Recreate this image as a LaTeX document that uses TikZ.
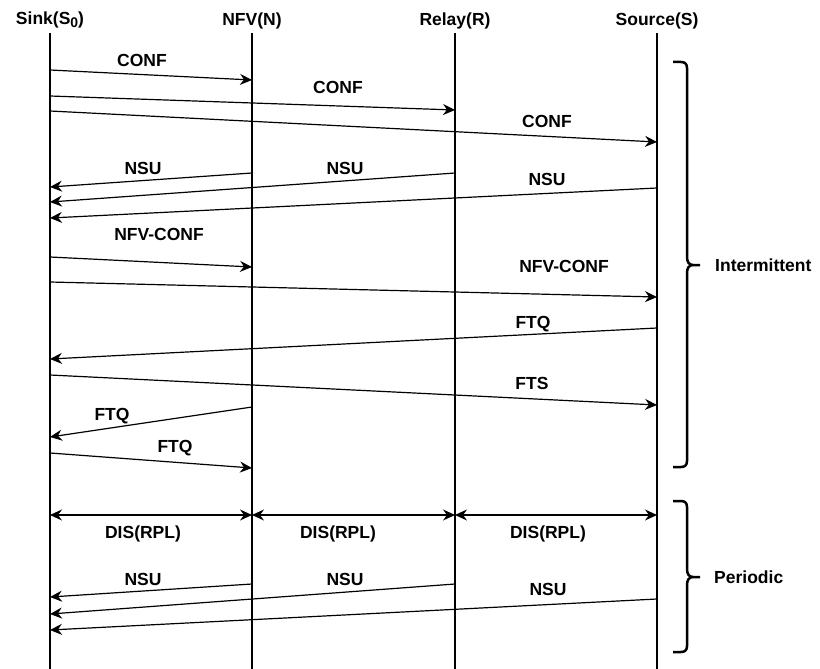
\documentclass[tikz,border=0pt]{standalone}
\usepackage{fontspec}
\setmainfont{Liberation Sans}
\usetikzlibrary{arrows.meta}
\begin{document}
\begin{tikzpicture}[x=1bp,y=-1bp,
  tip/.tip={Stealth[length=12bp,width=11bp,inset=4bp]},
  life/.style={line width=2.5bp},
  msg/.style={line width=1.2bp,-tip},
  dmsg/.style={line width=1.2bp,tip-tip},
  lbl/.style={font=\bfseries\fontsize{17.5bp}{20bp}\selectfont, inner sep=0pt, text height=12.5bp, text depth=0pt},
  bracebar/.style={line width=2.5bp, line join=round}
]
\useasboundingbox (0,0) rectangle (820,669);

% headers
\node[lbl] (hS0) at (50,18) {Sink(S\raisebox{-0.35ex}{\fontsize{14bp}{14bp}\selectfont 0})};
\node[lbl] (hN) at (252,19) {NFV(N)};
\node[lbl] (hR) at (455,19) {Relay(R)};
\node[lbl] (hS) at (657,19) {Source(S)};

% lifelines
\coordinate (s0t) at (50,33);  \coordinate (s0b) at (50,669);
\coordinate (nt) at (252,33);  \coordinate (nb) at (252,669);
\coordinate (rt) at (455,33);  \coordinate (rb) at (455,669);
\coordinate (st) at (657,33);  \coordinate (sb) at (657,669);
\draw[life] (s0t) -- (s0b);
\draw[life] (nt) -- (nb);
\draw[life] (rt) -- (rb);
\draw[life] (st) -- (sb);

% messages
\coordinate (m1a) at (50,70);   \coordinate (m1b) at (252,80);
\coordinate (m2a) at (50,96);   \coordinate (m2b) at (455,110);
\coordinate (m3a) at (50,111);  \coordinate (m3b) at (657,142);
\coordinate (m4a) at (252,173); \coordinate (m4b) at (50,187);
\coordinate (m5a) at (455,173); \coordinate (m5b) at (50,202);
\coordinate (m6a) at (657,188); \coordinate (m6b) at (50,218);
\coordinate (m7a) at (50,257);  \coordinate (m7b) at (252,267);
\coordinate (m8a) at (50,282);  \coordinate (m8b) at (657,297);
\coordinate (m9a) at (657,328); \coordinate (m9b) at (50,359);
\coordinate (m10a) at (50,375); \coordinate (m10b) at (657,405);
\coordinate (m11a) at (252,407);\coordinate (m11b) at (50,437);
\coordinate (m12a) at (50,453); \coordinate (m12b) at (252,468);
\coordinate (d1) at (50,515); \coordinate (d2) at (252,515);
\coordinate (d3) at (455,515); \coordinate (d4) at (657,515);
\coordinate (p1a) at (252,584); \coordinate (p1b) at (50,597);
\coordinate (p2a) at (455,584); \coordinate (p2b) at (50,614);
\coordinate (p3a) at (657,599); \coordinate (p3b) at (50,630);

\draw[msg] (m1a) -- (m1b);
\draw[msg] (m2a) -- (m2b);
\draw[msg] (m3a) -- (m3b);
\draw[msg] (m4a) -- (m4b);
\draw[msg] (m5a) -- (m5b);
\draw[msg] (m6a) -- (m6b);
\draw[msg] (m7a) -- (m7b);
\draw[msg] (m8a) -- (m8b);
\draw[msg] (m9a) -- (m9b);
\draw[msg] (m10a) -- (m10b);
\draw[msg] (m11a) -- (m11b);
\draw[msg] (m12a) -- (m12b);
\draw[dmsg] (d1) -- (d2);
\draw[dmsg] (d2) -- (d3);
\draw[dmsg] (d3) -- (d4);
\draw[msg] (p1a) -- (p1b);
\draw[msg] (p2a) -- (p2b);
\draw[msg] (p3a) -- (p3b);

% labels
\node[lbl] (l1) at (142,60) {CONF};
\node[lbl] (l2) at (338,87) {CONF};
\node[lbl] (l3) at (547,121) {CONF};
\node[lbl] (l4) at (143,168) {NSU};
\node[lbl] (l5) at (345,168) {NSU};
\node[lbl] (l6) at (547,179) {NSU};
\node[lbl] (l7) at (159,234) {NFV-CONF};
\node[lbl] (l8) at (564,266) {NFV-CONF};
\node[lbl] (l9) at (533,322) {FTQ};
\node[lbl] (l10) at (532,383) {FTS};
\node[lbl] (l11) at (112,414) {FTQ};
\node[lbl] (l12) at (175,446) {FTQ};
\node[lbl] (ld1) at (143,532) {DIS(RPL)};
\node[lbl] (ld2) at (338,532) {DIS(RPL)};
\node[lbl] (ld3) at (548,532) {DIS(RPL)};
\node[lbl] (lp1) at (143,579) {NSU};
\node[lbl] (lp2) at (345,579) {NSU};
\node[lbl] (lp3) at (548,589) {NSU};

% braces
\draw[bracebar] (673,62) -- (681,62) .. controls (685,62) and (687,64) .. (687,68)
  -- (687,257) .. controls (687,262) and (689,265) .. (693,265) -- (700,265);
\draw[bracebar] (693,265) .. controls (689,265) and (687,268) .. (687,273)
  -- (687,461) .. controls (687,465) and (685,467) .. (681,467) -- (673,467);
\node[lbl, anchor=west] (lInt) at (715,265) {Intermittent};

\draw[bracebar] (673,501) -- (681,501) .. controls (685,501) and (687,503) .. (687,507)
  -- (687,569) .. controls (687,574) and (689,577) .. (693,577) -- (700,577);
\draw[bracebar] (693,577) .. controls (689,577) and (687,580) .. (687,585)
  -- (687,646) .. controls (687,650) and (685,652) .. (681,652) -- (673,652);
\node[lbl, anchor=west] (lPer) at (714,577) {Periodic};
\end{tikzpicture}
\end{document}
